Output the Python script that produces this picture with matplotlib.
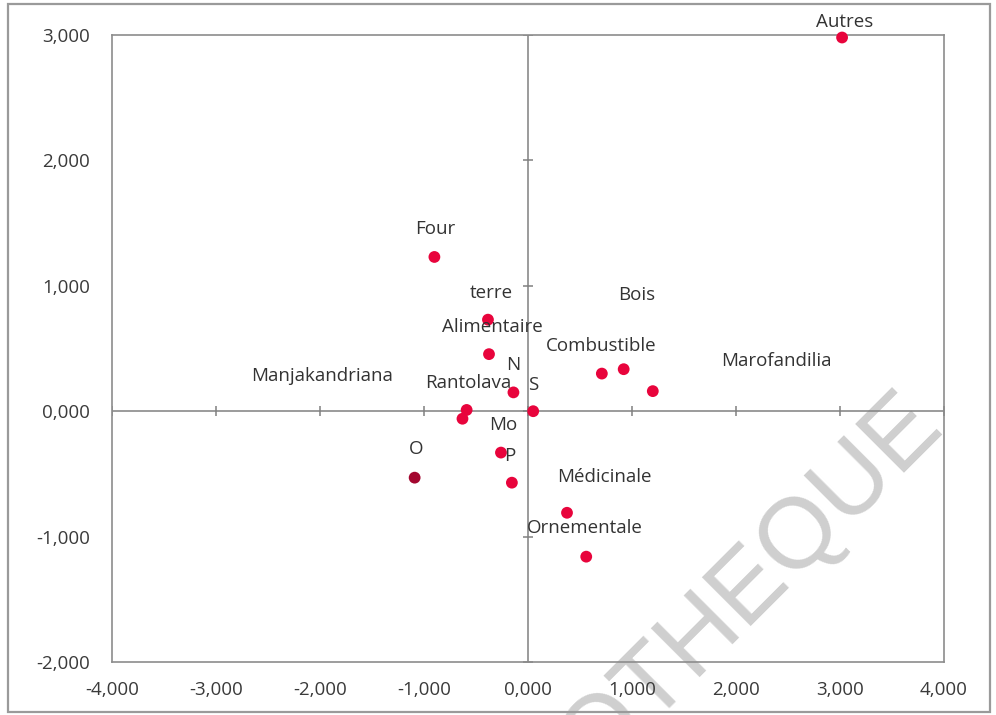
import matplotlib
matplotlib.use("Agg")
import matplotlib.pyplot as plt
from matplotlib.ticker import FuncFormatter, FixedLocator
from matplotlib.patches import Rectangle

# ---- data ----
point_x = [3.02, -0.90, -0.385, -0.375, -0.14, 0.05, -0.59, -0.63, -0.26, -0.155,
           -1.09, 0.71, 0.92, 1.20, 0.375, 0.56]
point_y = [2.98, 1.23, 0.73, 0.455, 0.15, 0.0, 0.01, -0.06, -0.33, -0.57,
           -0.53, 0.30, 0.335, 0.16, -0.81, -1.16]
point_dark = [False, False, False, False, False, False, False, False, False, False,
              True, False, False, False, False, False]

labels = ["Autres", "Four", "terre", "Bois", "Alimentaire", "Combustible", "N",
          "Marofandilia", "Manjakandriana", "Rantolava", "S", "Mo", "O", "P",
          "Médicinale", "Ornementale"]
label_x = [3.04, -0.894, -0.356, 1.045, -0.346, 0.702, -0.144, 2.385, -1.98,
           -0.577, 0.048, -0.240, -1.08, -0.173, 0.73, 0.55]
label_y = [3.10, 1.451, 0.94, 0.925, 0.67, 0.52, 0.37, 0.40, 0.28, 0.223,
           0.21, -0.11, -0.30, -0.36, -0.526, -0.933]

x_ticks = [-4, -3, -2, -1, 0, 1, 2, 3, 4]
y_ticks = [-2, -1, 0, 1, 2, 3]

# ---- figure ----
W, H = 996, 715
fig = plt.figure(figsize=(W / 100, H / 100), dpi=100)
fig.patch.set_facecolor("white")

# outer chart-area border
fig.add_artist(Rectangle((8 / W, 1 - 712 / H), (990 - 8) / W, (712 - 4) / H,
                         transform=fig.transFigure, fill=False,
                         edgecolor="#9a9a9a", linewidth=1.6))

ax = fig.add_axes([112 / W, 1 - 662 / H, (944 - 112) / W, (662 - 35) / H])
ax.patch.set_alpha(0)
ax.set_xlim(-4, 4)
ax.set_ylim(-2, 3)
for s in ax.spines.values():
    s.set_color("#8c8c8c")
    s.set_linewidth(1.2)

fmt = FuncFormatter(lambda v, p: f"{v:.3f}".replace(".", ","))
ax.xaxis.set_major_locator(FixedLocator(x_ticks))
ax.yaxis.set_major_locator(FixedLocator(y_ticks))
ax.xaxis.set_major_formatter(fmt)
ax.yaxis.set_major_formatter(fmt)
ax.tick_params(axis="both", length=0, labelsize=13.5, labelcolor="#3a3a3a")
ax.tick_params(axis="x", pad=14)
ax.tick_params(axis="y", pad=16)
for t in ax.get_xticklabels() + ax.get_yticklabels():
    t.set_fontfamily("Open Sans")

# zero cross lines with crossing tick marks
ax.axhline(0, color="#808080", linewidth=1.1, zorder=1)
ax.axvline(0, color="#808080", linewidth=1.1, zorder=1)
ax.plot(x_ticks, [0] * len(x_ticks), linestyle="none", marker="|",
        markersize=7, markeredgewidth=1.1, color="#808080", zorder=1)
ax.plot([0] * len(y_ticks), y_ticks, linestyle="none", marker="_",
        markersize=7, markeredgewidth=1.1, color="#808080", zorder=1)

# points
colors = ["#a3062f" if d else "#e8043c" for d in point_dark]
ax.scatter(point_x, point_y, s=72, c=colors, edgecolors="none", zorder=3,
           clip_on=False)

# labels
for t, x, y in zip(labels, label_x, label_y):
    ax.text(x, y, t, ha="center", va="center", fontsize=13.5,
            family="Open Sans", color="#333333", zorder=4, clip_on=False)

# watermark (behind the chart)
fig.text(944 / W, 1 - 425 / H, "BIBLIOTHEQUE", fontsize=72,
         family="Liberation Sans", color="#cfcfcf",
         rotation=45, rotation_mode="anchor", ha="right", va="baseline",
         zorder=-1)

fig.savefig("out.png", dpi=100, facecolor="white")
